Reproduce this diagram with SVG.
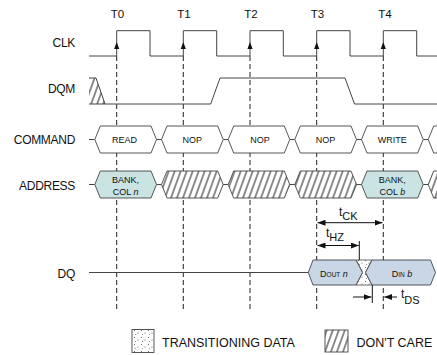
<svg xmlns="http://www.w3.org/2000/svg" width="437" height="355" viewBox="0 0 437 355">
<style>
text{font-family:"Liberation Sans",Arial,sans-serif;fill:#111}
.lbl{font-size:12px;text-anchor:end;letter-spacing:-0.3px}
.tl{font-size:11.5px;text-anchor:middle}
.bt{font-size:9px;text-anchor:middle}
.sig{fill:none;stroke:#444;stroke-width:1}
.dash{stroke:#222;stroke-width:1;stroke-dasharray:5,3}
.box{fill:#fff;stroke:#444;stroke-width:0.9}
.hat{fill:url(#hatch);stroke:#444;stroke-width:0.9}
.teal{fill:#c9e4e3;stroke:#444;stroke-width:0.9}
.blue{fill:#c8d6e6;stroke:#444;stroke-width:0.9}
.dim{stroke:#111;stroke-width:1;fill:none}
.leg{font-size:12.5px}
</style>
<defs>
<pattern id="hatch" width="6" height="10" patternUnits="userSpaceOnUse" patternTransform="skewX(-20)">
<rect width="6" height="10" fill="#fff"/>
<line x1="3" y1="-1" x2="3" y2="11" stroke="#111" stroke-width="1"/>
</pattern>
<pattern id="stip" width="7" height="7" patternUnits="userSpaceOnUse">
<rect width="7" height="7" fill="#fff"/>
<circle cx="1.5" cy="1.5" r="0.55" fill="#555"/>
<circle cx="5" cy="4" r="0.55" fill="#555"/>
<circle cx="2.5" cy="5.5" r="0.5" fill="#777"/>
</pattern>
<marker id="ah" viewBox="0 0 8 6" refX="8" refY="3" markerWidth="8" markerHeight="6" markerUnits="userSpaceOnUse" orient="auto-start-reverse">
<path d="M0,0 L8,3 L0,6 z" fill="#111"/>
</marker>
</defs>

<g id="labels">
<text class="tl" x="117.5" y="18">T0</text>
<text class="tl" x="184" y="18">T1</text>
<text class="tl" x="251" y="18">T2</text>
<text class="tl" x="317.5" y="18">T3</text>
<text class="tl" x="385" y="18">T4</text>
<text class="lbl" x="75" y="46.5">CLK</text>
<text class="lbl" x="75" y="93">DQM</text>
<text class="lbl" x="75" y="144">COMMAND</text>
<text class="lbl" x="75" y="190">ADDRESS</text>
<text class="lbl" x="75" y="278">DQ</text>
</g>

<g id="connectors">
<line class="dash" x1="116.7" y1="56" x2="116.7" y2="311"/>
<line class="dash" x1="183.3" y1="56" x2="183.3" y2="311"/>
<line class="dash" x1="250" y1="56" x2="250" y2="311"/>
<line class="dash" x1="316.7" y1="56" x2="316.7" y2="311"/>
<line class="dash" x1="383.3" y1="56" x2="383.3" y2="311"/>
</g>

<g id="clk">
<path class="sig" d="M89,56 H116.7 V30.7 H150 V56 H183.3 V30.7 H216.7 V56 H250 V30.7 H283.3 V56 H316.7 V30.7 H350 V56 H383.3 V30.7 H416.7 V56 H437"/>
<path d="M116.7,42 l-2.6,7 h5.2z M183.3,42 l-2.6,7 h5.2z M250,42 l-2.6,7 h5.2z M316.7,42 l-2.6,7 h5.2z M383.3,42 l-2.6,7 h5.2z" fill="#111"/>
</g>

<g id="dqm">
<polygon points="89,78 96,78 105,104 89,104" fill="url(#hatch)"/>
<path class="sig" d="M89,78 H96 L105,104"/>
<path class="sig" d="M89,104 H210.7 L220,78 H345 L354.5,104 H437"/>
</g>

<g id="command">
<path class="sig" d="M89,139.5 H94.8 M156.5,139.5 H161.5 M223.2,139.5 H228.2 M289.8,139.5 H294.8 M356.5,139.5 H361.5 M423.2,139.5 H428.2"/>
<polygon class="box" points="94.8,139.5 100.3,126 151,126 156.5,139.5 151,153 100.3,153"/>
<polygon class="box" points="161.5,139.5 167,126 217.7,126 223.2,139.5 217.7,153 167,153"/>
<polygon class="box" points="228.2,139.5 233.7,126 284.3,126 289.8,139.5 284.3,153 233.7,153"/>
<polygon class="box" points="294.8,139.5 300.3,126 351,126 356.5,139.5 351,153 300.3,153"/>
<polygon class="box" points="361.5,139.5 367,126 417.7,126 423.2,139.5 417.7,153 367,153"/>
<polygon class="box" points="428.2,139.5 433.7,126 445,126 445,153 433.7,153"/>
<text class="bt" x="124.5" y="142.7">READ</text>
<text class="bt" x="192.3" y="142.7">NOP</text>
<text class="bt" x="260" y="142.7">NOP</text>
<text class="bt" x="325.6" y="142.7">NOP</text>
<text class="bt" x="392.3" y="142.7">WRITE</text>
</g>

<g id="address">
<path class="sig" d="M89,184.5 H94.8 M156.5,184.5 H161.5 M223.2,184.5 H228.2 M289.8,184.5 H294.8 M356.5,184.5 H361.5 M423.2,184.5 H428.2"/>
<polygon class="teal" points="94.8,184.5 100.3,171 151,171 156.5,184.5 151,198 100.3,198"/>
<polygon class="hat" points="161.5,184.5 167,171 217.7,171 223.2,184.5 217.7,198 167,198"/>
<polygon class="hat" points="228.2,184.5 233.7,171 284.3,171 289.8,184.5 284.3,198 233.7,198"/>
<polygon class="hat" points="294.8,184.5 300.3,171 351,171 356.5,184.5 351,198 300.3,198"/>
<polygon class="teal" points="361.5,184.5 367,171 417.7,171 423.2,184.5 417.7,198 367,198"/>
<polygon class="hat" points="428.2,184.5 433.7,171 445,171 445,198 433.7,198"/>
<text class="bt" x="125.6" y="183">BANK,</text>
<text class="bt" x="125.6" y="194.5">COL <tspan font-style="italic">n</tspan></text>
<text class="bt" x="392.3" y="183">BANK,</text>
<text class="bt" x="392.3" y="194.5">COL <tspan font-style="italic">b</tspan></text>
</g>

<g id="dq">
<path class="sig" d="M89,272.5 H308.3"/>
<polygon points="356,260 372,260 365.5,272.5 372,285 356,285 362.5,272.5" fill="url(#stip)" stroke="#444" stroke-width="0.8"/>
<polygon class="blue" points="308.3,272.5 313,260 356,260 362.5,272.5 356,285 313,285"/>
<polygon class="blue" points="365.5,272.5 372,260 430.5,260 435.5,272.5 430.5,285 372,285"/>
<text class="bt" x="334" y="276.5">D<tspan font-size="6.5">OUT</tspan> <tspan font-style="italic">n</tspan></text>
<text class="bt" x="402" y="276.5">D<tspan font-size="6.5">IN</tspan> <tspan font-style="italic">b</tspan></text>
</g>

<g id="timing">
<line class="dim" x1="317.5" y1="222.7" x2="382.5" y2="222.7" marker-start="url(#ah)" marker-end="url(#ah)"/>
<text x="339" y="216" font-size="12">t<tspan font-size="11" dy="4">CK</tspan></text>
<line class="dim" x1="317.5" y1="245.5" x2="358.8" y2="245.5" marker-start="url(#ah)" marker-end="url(#ah)"/>
<line class="dim" x1="359.3" y1="241" x2="359.3" y2="260"/>
<text x="326" y="236.5" font-size="12">t<tspan font-size="11" dy="4">HZ</tspan></text>
<line class="dim" x1="372.3" y1="285" x2="372.3" y2="303"/>
<line class="dim" x1="353" y1="297" x2="371.5" y2="297" marker-end="url(#ah)"/>
<line class="dim" x1="397" y1="297" x2="384.3" y2="297" marker-end="url(#ah)"/>
<text x="401" y="297.5" font-size="12">t<tspan font-size="11" dy="6">DS</tspan></text>
</g>

<g id="legend">
<rect x="132" y="329.5" width="22" height="23" fill="url(#stip)" stroke="#444" stroke-width="0.9"/>
<text class="leg" x="162" y="346.5">TRANSITIONING DATA</text>
<rect x="325" y="330" width="23" height="22" fill="url(#hatch)" stroke="#444" stroke-width="0.9"/>
<text class="leg" x="356.5" y="346.5">DON'T CARE</text>
</g>
</svg>
